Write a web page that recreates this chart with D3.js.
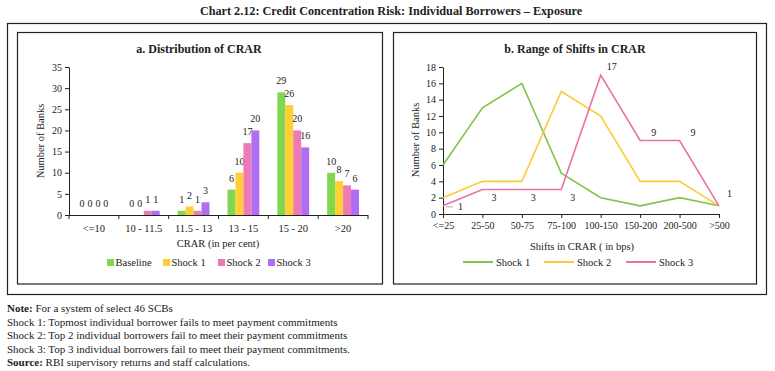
<!DOCTYPE html>
<html>
<head>
<meta charset="utf-8">
<script src="https://cdn.jsdelivr.net/npm/d3@7"></script>
<style>
body { margin: 0; background: #fff; }
svg text { font-family: "Liberation Serif", serif; fill: #222; }
</style>
</head>
<body>
<svg id="chart" width="775" height="371"></svg>
<script>
// chart a data
var crarCats = ["<=10", "10 - 11.5", "11.5 - 13", "13 - 15", "15 - 20", ">20"];
var crarSeries = ["Baseline", "Shock 1", "Shock 2", "Shock 3"];
var baseline = [0, 0, 1, 6, 29, 10];
var shock1a = [0, 0, 2, 10, 26, 8];
var shock2a = [0, 1, 1, 17, 20, 7];
var shock3a = [0, 1, 3, 20, 16, 6];
var crarTicks = [0, 5, 10, 15, 20, 25, 30, 35];

// chart b data
var shiftCats = ["<=25", "25-50", "50-75", "75-100", "100-150", "150-200", "200-500", ">500"];
var shiftSeries = ["Shock 1", "Shock 2", "Shock 3"];
var shock1b = [6, 13, 16, 5, 2, 1, 2, 1];
var shock2b = [2, 4, 4, 15, 12, 4, 4, 1];
var shock3b = [1, 3, 3, 3, 17, 9, 9, 1];
var shiftTicks = [0, 2, 4, 6, 8, 10, 12, 14, 16, 18];

var barColors = ["#7fd84f", "#ffcf33", "#ee7ab4", "#b06ef5"];
var lineColors = ["#84c44a", "#fcca3a", "#ec6fa6"];

var svg = d3.select("#chart");

// title
svg.append("text")
    .attr("x", 391).attr("y", 15)
    .attr("text-anchor", "middle")
    .style("font-size", "12.2px").style("font-weight", "bold")
    .text("Chart 2.12: Credit Concentration Risk: Individual Borrowers \u2013 Exposure");

// frames
svg.append("rect").attr("x", 7.5).attr("y", 23.5).attr("width", 759).attr("height", 271)
    .attr("fill", "none").attr("stroke", "#222").attr("stroke-width", 1.2);
svg.append("rect").attr("x", 17.5).attr("y", 32.5).attr("width", 365).attr("height", 251.5)
    .attr("fill", "none").attr("stroke", "#222").attr("stroke-width", 1.2);
svg.append("rect").attr("x", 393.5).attr("y", 32.5).attr("width", 363).attr("height", 251.5)
    .attr("fill", "none").attr("stroke", "#222").attr("stroke-width", 1.2);

// ---------- chart a ----------
var barData = [baseline, shock1a, shock2a, shock3a];

var xa = d3.scaleBand().domain(crarCats).range([69, 368]);
var xInner = d3.scaleBand().domain(crarSeries).range([9, xa.bandwidth() - 9]);
var ya = d3.scaleLinear().domain([0, 35]).range([215, 67]);

var ga = svg.append("g");

ga.append("text").attr("x", 199).attr("y", 53).attr("text-anchor", "middle")
    .style("font-size", "12px").style("font-weight", "bold")
    .text("a. Distribution of CRAR");

crarSeries.forEach(function (s, si) {
    var vals = barData[si];
    ga.selectAll(".bar" + si)
        .data(vals)
        .enter().append("rect")
        .attr("x", function (d, i) { return xa(crarCats[i]) + xInner(s); })
        .attr("width", xInner.bandwidth())
        .attr("y", function (d) { return ya(d); })
        .attr("height", function (d) { return ya(0) - ya(d); })
        .attr("fill", barColors[si]);
    ga.selectAll(".lab" + si)
        .data(vals)
        .enter().append("text")
        .attr("x", function (d, i) { return xa(crarCats[i]) + xInner(s) + xInner.bandwidth() / 2; })
        .attr("y", function (d) { return ya(d) - 8; })
        .attr("text-anchor", "middle")
        .style("font-size", "10px")
        .text(function (d) { return d; });
});

// y axis
var yAxisA = ga.append("g").attr("transform", "translate(69,0)")
    .call(d3.axisLeft(ya).tickValues(crarTicks).tickSize(4).tickSizeOuter(0));
yAxisA.selectAll("text").style("font-size", "10px").attr("fill", "#222");
yAxisA.selectAll("line,path").attr("stroke", "#222");

// x axis with ticks at boundaries
ga.append("line").attr("x1", 69).attr("x2", 368).attr("y1", 215.5).attr("y2", 215.5).attr("stroke", "#222");
ga.selectAll(".xtick")
    .data(crarCats.concat(["end"]))
    .enter().append("line")
    .attr("x1", function (d, i) { return i < crarCats.length ? xa(d) : xa.range()[1]; })
    .attr("x2", function (d, i) { return i < crarCats.length ? xa(d) : xa.range()[1]; })
    .attr("y1", 215).attr("y2", 219).attr("stroke", "#222");
ga.selectAll(".xlab")
    .data(crarCats)
    .enter().append("text")
    .attr("x", function (d) { return xa(d) + xa.bandwidth() / 2; })
    .attr("y", 232)
    .attr("text-anchor", "middle")
    .style("font-size", "10.5px")
    .text(function (d) { return d; });

ga.append("text").attr("x", 218).attr("y", 247).attr("text-anchor", "middle")
    .style("font-size", "10.5px").text("CRAR (in per cent)");
ga.append("text").attr("transform", "translate(44,141) rotate(-90)").attr("text-anchor", "middle")
    .style("font-size", "10.5px").text("Number of Banks");

// legend a
var legA = [107, 163, 218, 268];
crarSeries.forEach(function (s, i) {
    ga.append("rect").attr("x", legA[i]).attr("y", 259).attr("width", 7).attr("height", 7).attr("fill", barColors[i]);
    ga.append("text").attr("x", legA[i] + 8.5).attr("y", 266).style("font-size", "10.5px").text(s);
});

// ---------- chart b ----------
var lineData = [shock1b, shock2b, shock3b];

var xb = d3.scalePoint().domain(shiftCats).range([443, 719]);
var yb = d3.scaleLinear().domain([0, 18]).range([214, 67]);

var gb = svg.append("g");

gb.append("text").attr("x", 575).attr("y", 53).attr("text-anchor", "middle")
    .style("font-size", "12px").style("font-weight", "bold")
    .text("b. Range of Shifts in CRAR");

var yAxisB = gb.append("g").attr("transform", "translate(443,0)")
    .call(d3.axisLeft(yb).tickValues(shiftTicks).tickSize(4).tickSizeOuter(0));
yAxisB.selectAll("text").style("font-size", "10px").attr("fill", "#222");
yAxisB.selectAll("line,path").attr("stroke", "#222");

var xAxisB = gb.append("g").attr("transform", "translate(0,214)")
    .call(d3.axisBottom(xb).tickSize(4).tickSizeOuter(0).tickPadding(4));
xAxisB.selectAll("text").style("font-size", "10px").attr("fill", "#222");
xAxisB.selectAll("line,path").attr("stroke", "#222");

var line = d3.line()
    .x(function (d, i) { return xb(shiftCats[i]); })
    .y(function (d) { return yb(d); });

lineData.forEach(function (vals, si) {
    gb.append("path").datum(vals)
        .attr("d", line)
        .attr("fill", "none")
        .attr("stroke", lineColors[si])
        .attr("stroke-width", 1.6);
});

// data labels on shock 3
var labOff = [[15, 4], [9, 11], [9, 11], [9, 11], [6, -5], [11, -5], [11, -5], [8, -9]];
gb.append("line").attr("x1", 446).attr("x2", 453).attr("y1", yb(shock3b[0]) + 1).attr("y2", yb(shock3b[0]) + 1)
    .attr("stroke", "#aaa");
gb.selectAll(".blab")
    .data(shock3b)
    .enter().append("text")
    .attr("x", function (d, i) { return xb(shiftCats[i]) + labOff[i][0]; })
    .attr("y", function (d, i) { return yb(d) + labOff[i][1]; })
    .style("font-size", "10px")
    .text(function (d) { return d; });

gb.append("text").attr("x", 582).attr("y", 250).attr("text-anchor", "middle")
    .style("font-size", "10.5px").text("Shifts in CRAR ( in bps)");
gb.append("text").attr("transform", "translate(419,140) rotate(-90)").attr("text-anchor", "middle")
    .style("font-size", "10.5px").text("Number of Banks");

var legB = [463, 544, 626];
shiftSeries.forEach(function (s, i) {
    gb.append("line").attr("x1", legB[i]).attr("x2", legB[i] + 30).attr("y1", 262).attr("y2", 262)
        .attr("stroke", lineColors[i]).attr("stroke-width", 2);
    gb.append("text").attr("x", legB[i] + 33).attr("y", 265.5).style("font-size", "10.5px").text(s);
});

// ---------- notes ----------
var notes = [
    ["Note:", " For a system of select 46 SCBs"],
    ["", "Shock 1: Topmost individual borrower fails to meet payment commitments"],
    ["", "Shock 2: Top 2 individual borrowers fail to meet their payment commitments"],
    ["", "Shock 3: Top 3 individual borrowers fail to meet their payment commitments."],
    ["Source:", " RBI supervisory returns and staff calculations."]
];
var noteY = [312, 325.5, 339, 352.5, 366];
notes.forEach(function (n, i) {
    var t = svg.append("text").attr("x", 7).attr("y", noteY[i]).style("font-size", "11px");
    if (n[0]) t.append("tspan").style("font-weight", "bold").text(n[0]);
    t.append("tspan").text(n[1]);
});
</script>
</body>
</html>
